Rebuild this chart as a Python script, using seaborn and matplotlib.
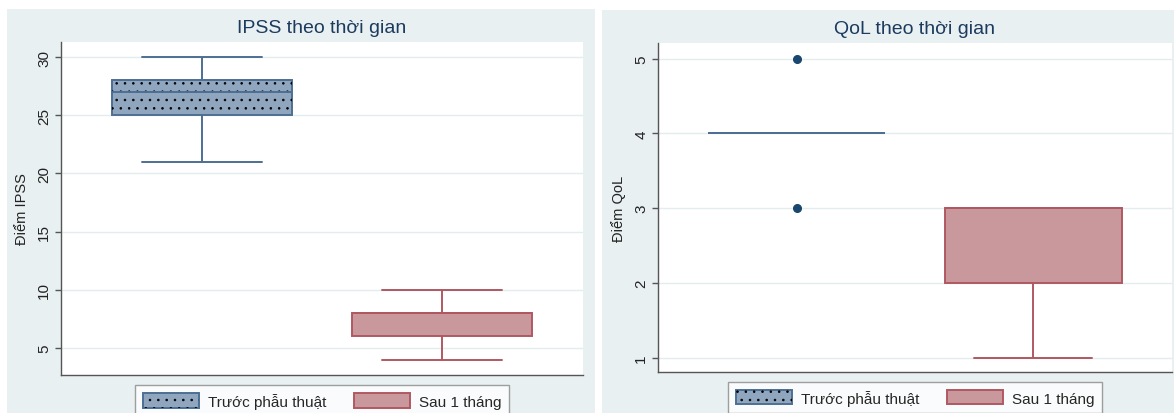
import pandas as pd
import seaborn as sns
import matplotlib.pyplot as plt
import matplotlib.patches as mpatches

# data (raw scores per group)
groups = ["Trước phẫu thuật", "Sau 1 tháng"]
ipss_truoc = [21, 24, 25, 25, 26, 27, 27, 28, 28, 29, 30]
ipss_sau = [4, 5, 6, 6, 7, 8, 8, 8, 8, 9, 10]
qol_truoc = [3, 4, 4, 4, 4, 4, 4, 4, 4, 4, 5]
qol_sau = [1, 2, 2, 2, 2, 3, 3, 3, 3, 3, 3]
ipss_ticks = [5, 10, 15, 20, 25, 30]
qol_ticks = [1, 2, 3, 4, 5]

fills = ["#8fa6be", "#c9989c"]
edges = ["#4d6f93", "#b05861"]
navy = "#1a476f"
bg = "#e8f0f2"

sns.set_style("white")
plt.rcParams['font.family'] = ['Liberation Sans', 'DejaVu Sans']
plt.rcParams['hatch.linewidth'] = 0.6


def draw_panel(ax, before, after, title, ylabel, ticks, ylim):
    df = pd.DataFrame({
        "group": [groups[0]] * len(before) + [groups[1]] * len(after),
        "value": before + after,
    })
    for i, g in enumerate(groups):
        sns.boxplot(data=df[df["group"] == g], x="group", y="value", order=groups,
                    width=0.75, color=fills[i], linecolor=edges[i], linewidth=1.4,
                    whis=1.5, capwidths=0.5, saturation=1,
                    flierprops=dict(marker="o", markerfacecolor=navy,
                                    markeredgecolor=navy, markersize=5.5),
                    ax=ax)
        if i == 0:
            # dotted fill on the first box
            box = ax.patches[-1]
            dots = mpatches.PathPatch(box.get_path(), transform=box.get_transform(),
                                      facecolor="none", edgecolor="black", lw=0,
                                      hatch="..", zorder=box.get_zorder() + 0.001)
            ax.add_patch(dots)

    ax.set_xlim(-0.5875, 1.5875)
    ax.set_ylim(*ylim)
    ax.set_xticks([])
    ax.set_xlabel("")
    ax.set_yticks(ticks)
    ax.tick_params(axis="y", labelrotation=90, labelsize=11, length=4, width=1,
                   color="#555555", labelcolor="#222222", left=True, pad=3)
    for lbl in ax.get_yticklabels():
        lbl.set_va("center")
    ax.set_ylabel(ylabel, fontsize=10.5, color="#222222", labelpad=6)
    ax.set_title(title, fontsize=14, color="#1c3b5e", pad=7)
    ax.set_axisbelow(True)
    ax.yaxis.grid(True, color="#e3ecef", linewidth=1.0)
    ax.xaxis.grid(False)
    for s in ["top", "right"]:
        ax.spines[s].set_visible(False)
    for s in ["left", "bottom"]:
        ax.spines[s].set_color("#555555")
        ax.spines[s].set_linewidth(1.0)

    handles = [
        (mpatches.Patch(facecolor=fills[0], edgecolor=edges[0], lw=1.4),
         mpatches.Patch(facecolor="none", edgecolor="black", lw=0, hatch="..")),
        mpatches.Patch(facecolor=fills[1], edgecolor=edges[1], lw=1.4),
    ]
    leg = ax.legend(handles, groups, loc="upper center", ncol=2,
                    bbox_to_anchor=(0.5, -0.03), borderaxespad=0, fontsize=11,
                    frameon=True, fancybox=False, handlelength=3.7,
                    handleheight=1.05, handletextpad=0.55, columnspacing=1.8,
                    borderpad=0.5)
    leg.get_frame().set_edgecolor("#888888")
    leg.get_frame().set_linewidth(1.0)
    leg.get_frame().set_facecolor("white")


fig = plt.figure(figsize=(11.75, 4.14), dpi=100)
fig.patch.set_facecolor("white")
fig.add_artist(mpatches.Rectangle((7 / 1175, 0), 588 / 1175, 404 / 414,
                                  transform=fig.transFigure, facecolor=bg,
                                  edgecolor="none", zorder=-1))
fig.add_artist(mpatches.Rectangle((602 / 1175, 0), 572 / 1175, 403 / 414,
                                  transform=fig.transFigure, facecolor=bg,
                                  edgecolor="none", zorder=-1))

ax1 = fig.add_axes([61 / 1175, 38 / 414, 522 / 1175, 333 / 414])
ax2 = fig.add_axes([658 / 1175, 41 / 414, 514 / 1175, 329 / 414])
ax1.set_facecolor("white")
ax2.set_facecolor("white")

draw_panel(ax1, ipss_truoc, ipss_sau, "IPSS theo thời gian", "Điểm IPSS",
           ipss_ticks, (2.68, 31.29))
draw_panel(ax2, qol_truoc, qol_sau, "QoL theo thời gian", "Điểm QoL",
           qol_ticks, (0.81, 5.21))

fig.savefig("out.png", dpi=100)
